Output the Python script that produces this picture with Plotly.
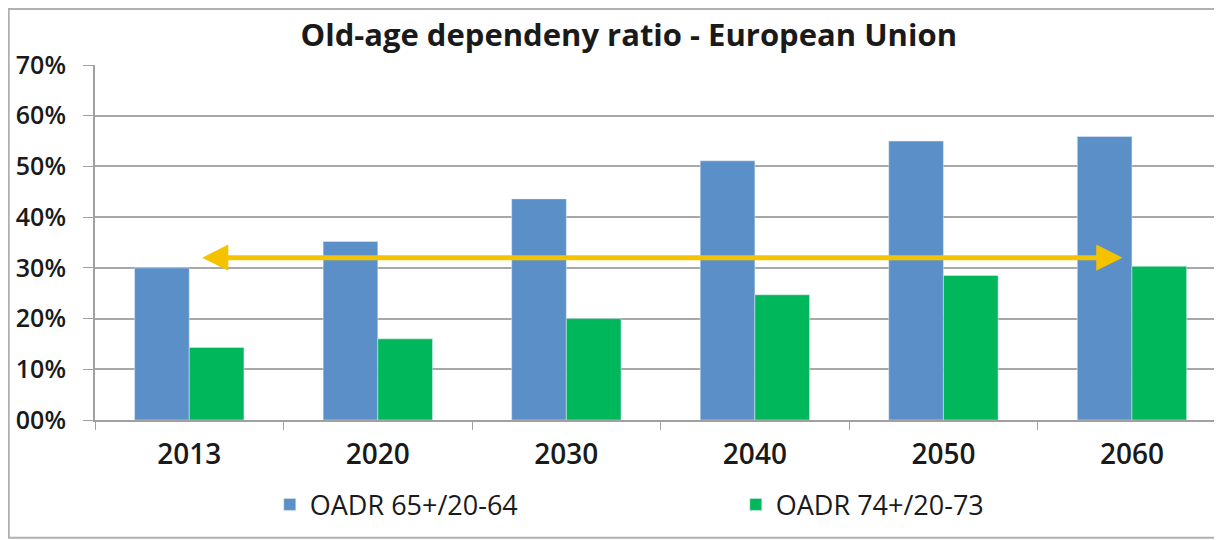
import plotly.graph_objects as go

years = ['2013', '2020', '2030', '2040', '2050', '2060']
oadr_65 = [30.0, 35.2, 43.6, 51.1, 55.0, 55.9]
oadr_74 = [14.3, 16.0, 20.0, 24.7, 28.5, 30.3]

y_ticks = [0, 10, 20, 30, 40, 50, 60, 70]
y_labels = ['00%', '10%', '20%', '30%', '40%', '50%', '60%', '70%']

# yellow arrow spans from first to last category at ~32%
arrow_y = 32
arrow_start = 0.06
arrow_end = 4.95

font = 'Open Sans'
ink = '#1a1a1a'

fig = go.Figure()
fig.add_trace(go.Bar(x=years, y=oadr_65, name='OADR 65+/20-64', marker_color='#5B8FC8'))
fig.add_trace(go.Bar(x=years, y=oadr_74, name='OADR 74+/20-73', marker_color='#00B85B'))

fig.add_annotation(
    x=arrow_end, y=arrow_y, ax=arrow_start, ay=arrow_y,
    xref='x', yref='y', axref='x', ayref='y',
    text='', showarrow=True, arrowside='end+start',
    arrowhead=2, arrowsize=1.05, arrowwidth=5, arrowcolor='#F5C200'
)

# outer chart frame
fig.add_shape(type='rect', xref='paper', yref='paper',
              x0=-0.076, x1=1.02, y0=-0.332, y1=1.158,
              line=dict(color='#B0B0B0', width=2), layer='below')

fig.update_layout(
    width=1222, height=540,
    margin=dict(l=87, r=0, t=57, b=128),
    paper_bgcolor='white', plot_bgcolor='white',
    title=dict(text='<b>Old-age dependeny ratio - European Union</b>',
               x=0.508, xanchor='center', y=0.95, yanchor='middle',
               font=dict(family=font, size=31, color=ink)),
    barmode='group', bargap=0.42, bargroupgap=0,
    font=dict(family=font, color=ink),
    legend=dict(orientation='h', x=0.154, y=-0.239, xanchor='left', yanchor='middle',
                font=dict(size=27, family=font, color=ink, weight=500),
                entrywidth=421, entrywidthmode='pixels', itemclick=False),
    showlegend=True,
)
fig.update_xaxes(
    range=[-0.5, 5.52], showline=True, linecolor='#A0A0A0', linewidth=2,
    ticks='outside', tickson='boundaries', ticklen=8, tickcolor='#A0A0A0',
    tickfont=dict(size=28, family=font, color=ink, weight=600), ticklabelstandoff=8,
    showgrid=False
)
fig.update_yaxes(
    range=[0, 70], tickvals=y_ticks, ticktext=y_labels,
    showline=True, linecolor='#A0A0A0', linewidth=2,
    ticks='outside', ticklen=10, tickcolor='#A0A0A0',
    showgrid=True, gridcolor='#A8A8A8', gridwidth=1.5,
    tickfont=dict(size=25, family=font, color=ink, weight=600), ticklabelstandoff=12,
    zeroline=False
)

fig.write_html('out.html')
